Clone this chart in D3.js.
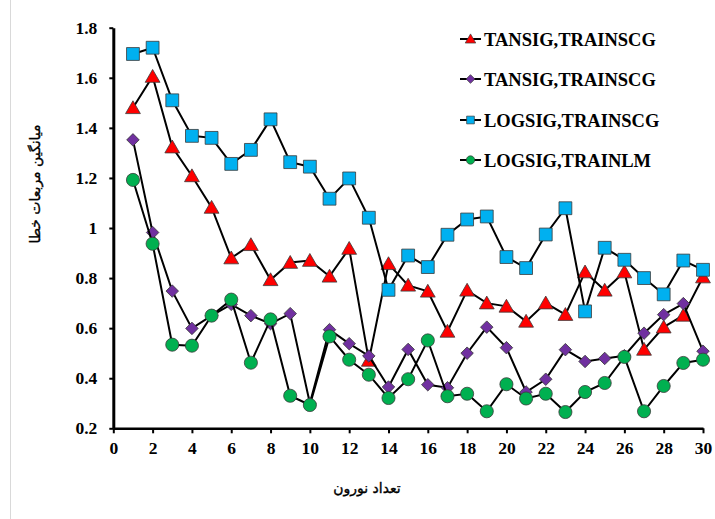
<!DOCTYPE html>
<html>
<head>
<meta charset="utf-8">
<script src="https://cdn.jsdelivr.net/npm/d3@7"></script>
<style>
  html, body { margin: 0; padding: 0; background: #fff; }
  svg { display: block; }
</style>
</head>
<body>
<div id="chart"></div>
<script>
// Number of neurons on the x axis
const neurons = d3.range(1, 31);

// Mean squared error for each activation / training function pair
const tansigScgA = [1.48, 1.605, 1.323, 1.208, 1.082, 0.88, 0.933, 0.793, 0.862, 0.870,
                    0.807, 0.918, 0.471, 0.857, 0.771, 0.747, 0.587, 0.751, 0.700, 0.687,
                    0.627, 0.700, 0.654, 0.824, 0.751, 0.824, 0.515, 0.604, 0.651, 0.804];
const tansigScgB = [1.352, 0.982, 0.748, 0.599, 0.650, 0.695, 0.650, 0.618, 0.658, 0.300,
                    0.594, 0.538, 0.489, 0.365, 0.515, 0.374, 0.362, 0.500, 0.604, 0.522,
                    0.345, 0.396, 0.514, 0.467, 0.479, 0.490, 0.580, 0.654, 0.698, 0.508];
const logsigScg  = [1.695, 1.720, 1.510, 1.368, 1.360, 1.256, 1.312, 1.434, 1.263, 1.245,
                    1.117, 1.198, 1.041, 0.753, 0.890, 0.844, 0.973, 1.034, 1.046, 0.884,
                    0.840, 0.974, 1.079, 0.667, 0.921, 0.873, 0.800, 0.735, 0.870, 0.833];
const logsigLm   = [1.192, 0.937, 0.534, 0.530, 0.650, 0.714, 0.462, 0.635, 0.330, 0.293,
                    0.567, 0.474, 0.414, 0.321, 0.396, 0.551, 0.328, 0.338, 0.268, 0.376,
                    0.319, 0.338, 0.265, 0.345, 0.381, 0.485, 0.268, 0.369, 0.461, 0.474];

const seriesNames = ["TANSIG,TRAINSCG", "TANSIG,TRAINSCG", "LOGSIG,TRAINSCG", "LOGSIG,TRAINLM"];
const seriesValues = [tansigScgA, tansigScgB, logsigScg, logsigLm];

const xTicks = d3.range(0, 31, 2);
const yTicks = [0.2, 0.4, 0.6, 0.8, 1, 1.2, 1.4, 1.6, 1.8];

const xTitle = "تعداد نورون";
const yTitle = "میانگین مربعات خطا";

// Visual style per series: marker symbol, fill, rotation
const styles = [
  { symbol: d3.symbolTriangle, size: 95,  fill: "#FF0000", rot: 0,  dy: 1.5, legendSize: 48 },
  { symbol: d3.symbolSquare,   size: 78,  fill: "#7030A0", rot: 45, dy: 0,   legendSize: 38 },
  { symbol: d3.symbolSquare,   size: 165, fill: "#00B0F0", rot: 0,  dy: 0,   legendSize: 60 },
  { symbol: d3.symbolCircle,   size: 135, fill: "#00B050", rot: 0,  dy: 0,   legendSize: 55 }
];

const W = 715, H = 519;
const svg = d3.select("#chart").append("svg").attr("width", W).attr("height", H);

// Faint frame edge at the left
svg.append("line").attr("x1", 10.5).attr("x2", 10.5).attr("y1", 0).attr("y2", H)
  .attr("stroke", "#d9d9d9").attr("stroke-width", 1);

const x = d3.scaleLinear().domain([0, 30]).range([113.3, 703]);
const y = d3.scaleLinear().domain([0.2, 1.8]).range([428.3, 27.7]);

const tickFont = "'Liberation Serif', 'Times New Roman', serif";
const titleFont = "'DejaVu Sans', sans-serif";

// X axis
const gx = svg.append("g").attr("transform", `translate(0,${y(0.2)})`)
  .call(d3.axisBottom(x).tickValues(xTicks).tickSize(5).tickSizeOuter(0).tickPadding(8)
    .tickFormat(d3.format("d")));
gx.select(".domain").attr("stroke", "#000").attr("stroke-width", 2.5);
gx.selectAll(".tick line").attr("stroke", "#000").attr("stroke-width", 2);
gx.selectAll(".tick text").attr("font-family", tickFont).attr("font-weight", "bold")
  .attr("font-size", 17.5).attr("fill", "#000");

// Y axis
const gy = svg.append("g").attr("transform", `translate(${x(0)},0)`)
  .call(d3.axisLeft(y).tickValues(yTicks).tickSize(4).tickSizeOuter(0).tickPadding(12)
    .tickFormat(d => String(+d.toFixed(1))));
gy.select(".domain").attr("stroke", "#000").attr("stroke-width", 3);
gy.selectAll(".tick line").attr("stroke", "#000").attr("stroke-width", 2);
gy.selectAll(".tick text").attr("font-family", tickFont).attr("font-weight", "bold")
  .attr("font-size", 17.5).attr("fill", "#000");

// Axis titles
svg.append("text").attr("x", 367).attr("y", 493).attr("text-anchor", "middle")
  .attr("font-family", titleFont).attr("font-weight", "normal")
  .attr("font-size", 14).attr("fill", "#000")
  .attr("stroke", "#000").attr("stroke-width", 0.35).text(xTitle);
svg.append("text").attr("transform", "translate(40,184) rotate(-90)").attr("text-anchor", "middle")
  .attr("font-family", titleFont).attr("font-weight", "normal")
  .attr("font-size", 14).attr("fill", "#000")
  .attr("stroke", "#000").attr("stroke-width", 0.35).text(yTitle);

// Series lines and markers
const line = d3.line().x((d, i) => x(neurons[i])).y(d => y(d));
seriesValues.forEach((vals, si) => {
  const st = styles[si];
  const g = svg.append("g").attr("class", "series");
  g.append("path").datum(vals).attr("d", line).attr("fill", "none")
    .attr("stroke", "#000").attr("stroke-width", 2);
  const sym = d3.symbol().type(st.symbol).size(st.size);
  g.selectAll("path.m").data(vals).join("path").attr("class", "m")
    .attr("d", sym)
    .attr("transform", (d, i) => `translate(${x(neurons[i])},${y(d) + st.dy}) rotate(${st.rot})`)
    .attr("fill", st.fill).attr("stroke", "#3a3a3a").attr("stroke-width", 0.8);
});

// Legend
const legendY = [39, 79, 120, 160];
seriesNames.forEach((name, si) => {
  const st = styles[si];
  const g = svg.append("g").attr("transform", `translate(0,${legendY[si]})`);
  g.append("line").attr("x1", 460).attr("x2", 481).attr("y1", 0).attr("y2", 0)
    .attr("stroke", "#000").attr("stroke-width", 2);
  g.append("path").attr("d", d3.symbol().type(st.symbol).size(st.legendSize)())
    .attr("transform", `translate(470.5,${st.dy ? 1 : 0}) rotate(${st.rot})`)
    .attr("fill", st.fill).attr("stroke", "#3a3a3a").attr("stroke-width", 0.7);
  g.append("text").attr("x", 484).attr("y", 6.5)
    .attr("font-family", tickFont).attr("font-weight", "bold")
    .attr("font-size", 18.5).attr("fill", "#000").text(name);
});
</script>
</body>
</html>
